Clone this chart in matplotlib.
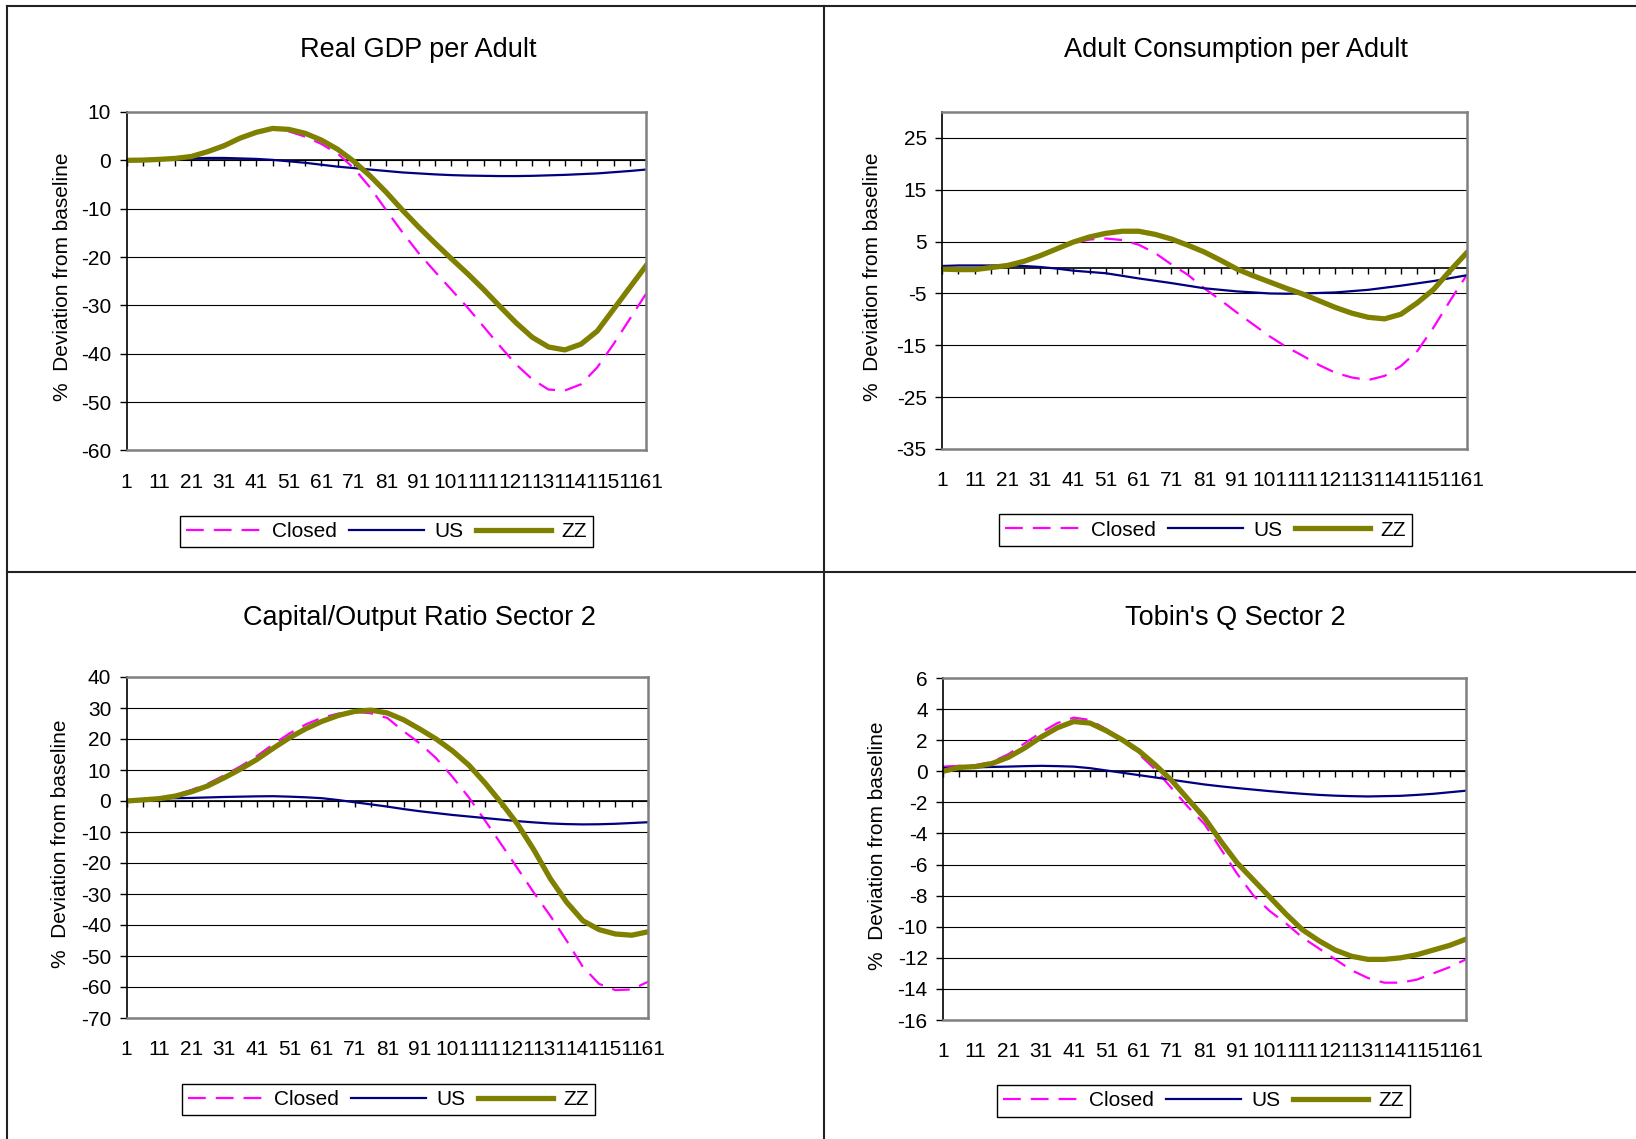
import numpy as np
import matplotlib.pyplot as plt
from matplotlib.lines import Line2D

plt.rcParams['font.family'] = ['Liberation Sans', 'DejaVu Sans']
plt.rcParams['axes.unicode_minus'] = False

# periods 1..161, read every 5 periods off the original chart
periods = np.arange(1, 162, 5)

gdp_closed = [0, 0.05, 0.2, 0.5, 1.0, 2.0, 3.3, 4.8, 5.9, 6.5, 6.0, 4.9, 3.4, 1.4, -1.6, -5.6, -10.3,
              -14.9, -19.2, -23.0, -26.7, -30.4, -34.4, -38.4, -42.2, -45.3, -47.4, -47.6, -46.3, -42.8,
              -38.0, -32.8, -27.6]
gdp_us = [0, 0.1, 0.2, 0.3, 0.4, 0.5, 0.5, 0.4, 0.3, 0.1, -0.2, -0.5, -0.9, -1.3, -1.6, -1.9, -2.2,
          -2.5, -2.7, -2.9, -3.05, -3.15, -3.2, -3.25, -3.25, -3.2, -3.1, -3.0, -2.85, -2.7, -2.45,
          -2.2, -1.9]
gdp_zz = [0, 0.05, 0.2, 0.4, 0.8, 1.8, 3.0, 4.6, 5.8, 6.6, 6.4, 5.6, 4.2, 2.3, -0.2, -3.2, -6.6,
          -10.3, -13.8, -17.1, -20.3, -23.4, -26.7, -30.2, -33.6, -36.6, -38.6, -39.2, -38.0, -35.3,
          -30.8, -26.3, -21.8]

cons_closed = [-0.2, -0.3, -0.3, 0.1, 0.5, 1.2, 2.2, 3.5, 4.7, 5.4, 5.6, 5.3, 4.4, 2.8, 0.6, -1.4,
               -4.0, -6.3, -8.7, -11.0, -13.3, -15.3, -17.0, -18.8, -20.3, -21.2, -21.7, -20.9, -19.0,
               -16.1, -11.5, -6.4, -1.5]
cons_us = [0.3, 0.4, 0.4, 0.4, 0.4, 0.3, 0.1, -0.2, -0.6, -0.85, -1.1, -1.6, -2.1, -2.55, -3.0, -3.5,
           -4.0, -4.3, -4.6, -4.8, -5.0, -5.05, -5.0, -4.9, -4.8, -4.55, -4.3, -3.9, -3.5, -3.05, -2.6,
           -2.05, -1.5]
cons_zz = [-0.3, -0.4, -0.4, 0.0, 0.4, 1.2, 2.3, 3.6, 4.9, 5.9, 6.6, 7.0, 7.0, 6.4, 5.5, 4.3, 3.0,
           1.4, -0.3, -1.6, -2.8, -4.0, -5.1, -6.4, -7.7, -8.8, -9.6, -9.9, -9.0, -6.8, -4.2, -0.6, 2.8]

ky_closed = [0, 0.3, 0.8, 1.9, 3.6, 5.6, 8.3, 11.2, 14.5, 18.3, 21.8, 24.7, 26.9, 28.2, 28.8, 28.3,
             26.8, 22.5, 18.6, 13.8, 7.8, 1.2, -6.3, -14.0, -21.8, -29.6, -37.0, -45.0, -53.5, -59.0,
             -61.0, -60.8, -58.3]
ky_us = [0, 0.4, 0.8, 0.9, 1.0, 1.15, 1.3, 1.4, 1.5, 1.55, 1.4, 1.2, 0.9, 0.3, -0.4, -1.1, -1.8,
         -2.6, -3.3, -3.9, -4.5, -5.0, -5.5, -6.0, -6.5, -6.9, -7.25, -7.45, -7.55, -7.5, -7.35, -7.1,
         -6.85]
ky_zz = [0, 0.35, 0.75, 1.6, 3.0, 4.9, 7.5, 10.3, 13.4, 17.0, 20.4, 23.3, 25.7, 27.6, 28.9, 29.3,
         28.4, 26.2, 23.2, 20.0, 16.2, 11.6, 5.8, -0.6, -7.5, -15.8, -25.0, -32.6, -38.6, -41.5, -42.9,
         -43.3, -42.2]

q_closed = [0.3, 0.35, 0.4, 0.6, 1.1, 1.8, 2.5, 3.1, 3.45, 3.3, 2.7, 2.0, 1.1, 0.1, -1.1, -2.3, -3.4,
            -5.0, -6.6, -8.0, -9.0, -9.8, -10.7, -11.4, -12.1, -12.8, -13.3, -13.6, -13.6, -13.4,
            -13.0, -12.6, -12.1]
q_us = [0.2, 0.25, 0.25, 0.28, 0.3, 0.33, 0.35, 0.33, 0.3, 0.2, 0.05, -0.1, -0.25, -0.4, -0.55, -0.7,
        -0.85, -0.97, -1.08, -1.18, -1.28, -1.37, -1.45, -1.52, -1.57, -1.6, -1.62, -1.6, -1.58,
        -1.52, -1.45, -1.35, -1.25]
q_zz = [0.0, 0.25, 0.3, 0.5, 0.9, 1.5, 2.2, 2.8, 3.2, 3.1, 2.6, 2.0, 1.3, 0.4, -0.6, -1.8, -3.0, -4.5,
        -5.9, -7.0, -8.1, -9.2, -10.2, -10.9, -11.5, -11.9, -12.1, -12.1, -12.0, -11.8, -11.5, -11.2,
        -10.8]

titles = ["Real GDP per Adult", "Adult Consumption per Adult",
          "Capital/Output Ratio Sector 2", "Tobin's Q Sector 2"]
series = [(gdp_closed, gdp_us, gdp_zz), (cons_closed, cons_us, cons_zz),
          (ky_closed, ky_us, ky_zz), (q_closed, q_us, q_zz)]
ylims = [(-60, 10), (-35, 30), (-70, 40), (-16, 6)]
yticks = [np.arange(-60, 11, 10), np.arange(-35, 26, 10),
          np.arange(-70, 41, 10), np.arange(-16, 7, 2)]
xlabels = np.arange(1, 162, 10)

W, H = 1636, 1139
fig = plt.figure(figsize=(W / 100, H / 100), dpi=100)


def fx(px):
    return px / W


def fy(py):
    return 1 - py / H


# plot boxes in pixels: left, top, right, bottom
boxes = [(126.5, 112, 646, 450.5), (942, 112, 1466.5, 449),
         (126.5, 677, 648, 1018), (943, 678, 1466, 1020)]
title_pos = [(418, 57), (1236, 57), (419, 625), (1235, 625)]
ylabel_pos = [(63, 277), (873, 277), (60, 844), (877, 846)]
legend_pos = [(386.5, 531.5), (1205.5, 530), (388.5, 1099.5), (1203.5, 1101)]

for i in range(4):
    l, t, r, b = boxes[i]
    ax = fig.add_axes([fx(l), fy(b), fx(r - l), (b - t) / H])
    closed, us, zz = series[i]
    ax.plot(periods, closed, color='#FF00FF', lw=1.6, dashes=(8, 4.5), label='Closed')
    ax.plot(periods, us, color='#000080', lw=1.6, label='US')
    ax.plot(periods, zz, color='#808000', lw=3.8, label='ZZ')
    ax.set_xlim(1, 161)
    ax.set_ylim(*ylims[i])
    ax.set_yticks(yticks[i])
    ax.yaxis.grid(True, color='black', lw=0.8)
    ax.set_axisbelow(True)
    ax.set_xticks(xlabels)
    ax.tick_params(axis='x', length=0, pad=16, labelsize=15)
    ax.tick_params(axis='y', direction='out', length=5, width=1, pad=6, labelsize=15)
    for s in ['top', 'right', 'bottom']:
        ax.spines[s].set_color('#808080')
        ax.spines[s].set_linewidth(1.8)
    ax.spines['left'].set_color('black')
    ax.spines['left'].set_linewidth(1.2)

    # category axis crossing at zero
    zero = (0 - ylims[i][0]) / (ylims[i][1] - ylims[i][0])
    sec = ax.secondary_xaxis(zero)
    sec.set_alignment('bottom')
    sec.set_xticks(np.arange(1, 162, 5))
    sec.tick_params(direction='out', length=4.5, width=1, labelbottom=False, labeltop=False)
    sec.spines['bottom'].set_color('black')
    sec.spines['bottom'].set_linewidth(1.2)

    fig.text(fx(title_pos[i][0]), fy(title_pos[i][1]), titles[i], ha='center', va='baseline', fontsize=19.5)
    fig.text(fx(ylabel_pos[i][0]), fy(ylabel_pos[i][1]), "%  Deviation from baseline",
             rotation=90, ha='center', va='center', fontsize=15)

    leg = ax.legend(loc='center', bbox_to_anchor=(fx(legend_pos[i][0]), fy(legend_pos[i][1])),
                    bbox_transform=fig.transFigure, ncol=3, fontsize=15, frameon=True, fancybox=False,
                    edgecolor='black', framealpha=1, handlelength=3.6, handletextpad=0.5,
                    columnspacing=0.6, borderpad=0.3)
    leg.get_frame().set_linewidth(1.0)

# outer table lines
for xs, ys in [([7, W], [6, 6]), ([7, W], [572, 572]), ([7, 7], [6, H]), ([824, 824], [6, H])]:
    fig.add_artist(Line2D([fx(x) for x in xs], [fy(y) for y in ys], transform=fig.transFigure,
                          color='#222222', lw=1.5))

plt.savefig("out.png", dpi=100)
